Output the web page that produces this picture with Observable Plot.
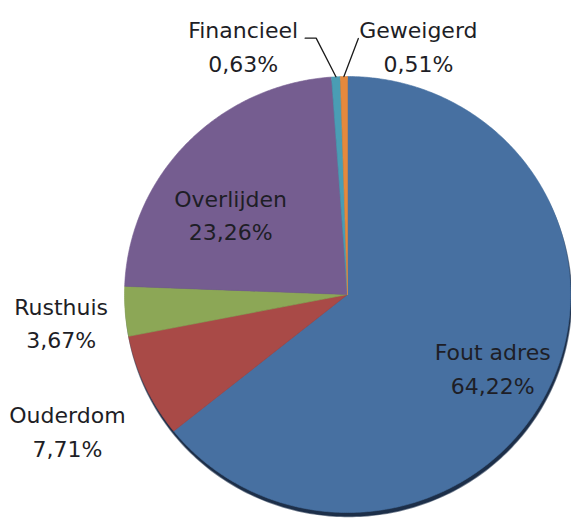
<!DOCTYPE html>
<html>
<head>
<meta charset="utf-8">
<script src="https://cdn.jsdelivr.net/npm/d3@7"></script>
<script src="https://cdn.jsdelivr.net/npm/@observablehq/plot@0.6"></script>
<style>
  html, body { margin: 0; padding: 0; background: #ffffff; }
  #chart svg { display: block; }
</style>
</head>
<body>
<div id="chart"></div>
<script>
// ---- data ----
const categories = ["Fout adres", "Ouderdom", "Rusthuis", "Overlijden", "Financieel", "Geweigerd"];
const percentages = [64.22, 7.71, 3.67, 23.26, 0.63, 0.51];
const percentLabels = ["64,22%", "7,71%", "3,67%", "23,26%", "0,63%", "0,51%"];

// ---- styles / layout ----
const sliceColors = ["#4770A1", "#A94A47", "#8CA756", "#755D90", "#4A9DB4", "#E5893D"];
const W = 571, H = 524;
const CX = 347, CY = 294, RX = 223, RY = 218;   // pie centre and radii in pixels
// label placement: angle nudge (deg) from slice mid-angle, radial factor
const labelAngleNudge = [1.3, -1.3, -0.9, -8.4, -19.2, 16.4];
const labelRadial = [0.73, 1.40, 1.29, 0.645, 1.24, 1.19];
const leaderFor = ["Financieel", "Geweigerd"];

const total = d3.sum(percentages);
const toRad = (deg) => deg * Math.PI / 180;
// angle measured clockwise from 12 o'clock, unit-circle coordinates (y up)
const polar = (deg, r) => ({x: r * Math.sin(toRad(deg)), y: r * Math.cos(toRad(deg))});

// build slice polygons
const slices = [];
let acc = 0;
const sliceInfo = categories.map((cat, i) => {
  const a0 = acc / total * 360;
  acc += percentages[i];
  const a1 = acc / total * 360;
  return {cat, a0, a1, mid: (a0 + a1) / 2, i};
});
for (const s of sliceInfo) {
  slices.push({cat: s.cat, x: 0, y: 0});
  const n = Math.max(2, Math.ceil((s.a1 - s.a0) / 0.5));
  for (let k = 0; k <= n; k++) {
    const a = s.a0 + (s.a1 - s.a0) * k / n;
    const p = polar(a, 1);
    slices.push({cat: s.cat, x: p.x, y: p.y});
  }
  slices.push({cat: s.cat, x: 0, y: 0});
}

// shadow disc (slightly offset downward)
const shadow = d3.range(0, 361, 1).map(a => {
  const p = polar(a, 1.0);
  return {x: p.x + 1 / RX, y: p.y - 4 / RY};
});

// labels
const labels = sliceInfo.map(s => {
  const p = polar(s.mid + labelAngleNudge[s.i], labelRadial[s.i]);
  return {cat: s.cat, x: p.x, y: p.y, text: s.cat + "\n" + percentLabels[s.i]};
});

// leader lines for the small slices
const leaders = [];
for (const s of sliceInfo) {
  if (!leaderFor.includes(s.cat)) continue;
  const lab = labels[s.i];
  const end = polar(s.mid, 1.0);
  if (s.cat === "Financieel") {
    leaders.push({cat: s.cat, x: lab.x + 62 / RX, y: lab.y + 6 / RY});
    leaders.push({cat: s.cat, x: lab.x + 73 / RX, y: lab.y + 6 / RY});
  } else {
    leaders.push({cat: s.cat, x: lab.x - 60 / RX, y: lab.y + 6 / RY});
  }
  leaders.push({cat: s.cat, x: end.x, y: end.y});
}

const chart = Plot.plot({
  width: W,
  height: H,
  margin: 0,
  x: {domain: [-CX / RX, (W - CX) / RX], axis: null},
  y: {domain: [-(H - CY) / RY, CY / RY], axis: null},
  color: {domain: categories, range: sliceColors},
  style: {background: "#ffffff"},
  marks: [
    Plot.line(shadow, {x: "x", y: "y", fill: "#1d2f49", stroke: "#1d2f49", strokeWidth: 1.5, strokeOpacity: 0.6, curve: "linear-closed"}),
    Plot.line(slices, {x: "x", y: "y", z: "cat", fill: "cat", stroke: "cat", strokeWidth: 0.6, curve: "linear-closed"}),
    Plot.line(leaders, {x: "x", y: "y", z: "cat", stroke: "#1a1a1a", strokeWidth: 1.3}),
    Plot.text(labels, {x: "x", y: "y", text: "text", fontSize: 22, fontFamily: "DejaVu Sans", lineHeight: 1.52, fill: "#1e1e26"})
  ]
});
document.getElementById("chart").appendChild(chart);
</script>
</body>
</html>
